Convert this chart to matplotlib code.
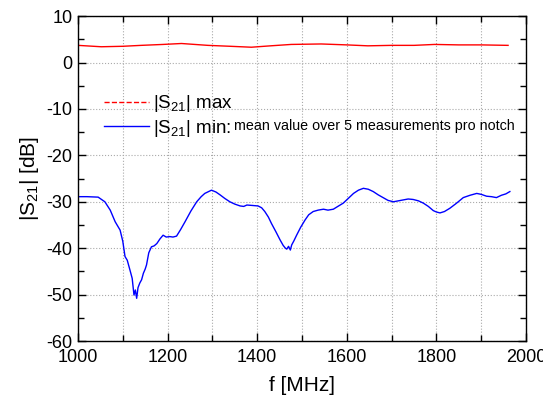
import numpy as np
import matplotlib.pyplot as plt
from matplotlib.lines import Line2D
from matplotlib.ticker import MultipleLocator

plt.rcParams['font.family'] = ['Liberation Sans', 'DejaVu Sans']
plt.rcParams['axes.unicode_minus'] = False
plt.rcParams['mathtext.fontset'] = 'custom'
plt.rcParams['mathtext.rm'] = 'Liberation Sans'
plt.rcParams['mathtext.it'] = 'Liberation Sans:italic'

# |S21| max
f_max = [1000, 1052, 1100, 1141, 1190, 1231, 1290, 1340, 1387, 1430, 1476, 1543, 1600, 1647, 1700, 1750, 1796, 1850, 1900, 1960]
s21_max = [3.7, 3.4, 3.5, 3.7, 3.9, 4.1, 3.7, 3.5, 3.3, 3.6, 3.9, 4.0, 3.8, 3.6, 3.7, 3.7, 3.9, 3.8, 3.8, 3.7]

# |S21| min, Mittelwert ueber 5 Messungen
f_min = [1000, 1020, 1045, 1060, 1072, 1083, 1094, 1100, 1105, 1110, 1116, 1121, 1125, 1128, 1131, 1134,
         1138, 1142, 1146, 1150, 1153, 1158, 1164, 1170, 1176, 1183, 1190, 1197, 1205, 1212, 1220, 1229,
         1239, 1252, 1265, 1275, 1283, 1298, 1308, 1317, 1328, 1339, 1350, 1362, 1370, 1377, 1390, 1402,
         1410, 1417, 1425, 1432, 1442, 1451, 1458, 1463, 1466, 1470, 1474, 1477, 1482, 1488, 1497, 1507,
         1515, 1525, 1536, 1548, 1558, 1570, 1580, 1592, 1603, 1615, 1626, 1637, 1648, 1659, 1670, 1681,
         1692, 1704, 1715, 1726, 1737, 1748, 1760, 1771, 1782, 1793, 1800, 1808, 1818, 1830, 1845, 1860,
         1875, 1890, 1900, 1912, 1923, 1934, 1945, 1955, 1964]
s21_min = [-28.9, -28.9, -29.0, -30.0, -31.8, -34.3, -36.1, -38.5, -41.8, -42.6, -44.7, -46.5, -50.1, -49.0, -50.8, -48.5,
           -47.5, -46.8, -45.4, -44.5, -43.6, -41.0, -39.7, -39.5, -39.0, -38.0, -37.2, -37.6, -37.5, -37.6, -37.4, -36.0,
           -34.3, -32.0, -30.0, -28.9, -28.2, -27.5, -27.9, -28.5, -29.3, -30.0, -30.5, -30.9, -31.0, -30.7, -30.8, -30.9,
           -31.3, -32.1, -33.3, -34.7, -36.5, -38.2, -39.4, -40.0, -40.2, -39.6, -40.4, -39.3, -38.4, -37.2, -35.5, -33.9,
           -32.8, -32.1, -31.8, -31.6, -31.8, -31.6, -31.0, -30.3, -29.3, -28.2, -27.5, -27.1, -27.3, -27.8, -28.5, -29.1,
           -29.7, -30.0, -29.8, -29.6, -29.4, -29.5, -29.8, -30.3, -31.0, -31.9, -32.2, -32.4, -32.1, -31.4, -30.3, -29.1,
           -28.6, -28.2, -28.4, -28.8, -28.9, -29.1, -28.6, -28.3, -27.8]

fig = plt.figure(figsize=(5.43, 4.03), dpi=100)
ax = fig.add_axes([0.1436, 0.1538, 0.8251, 0.8062])

ax.plot(f_max, s21_max, color='#ff0000', lw=1.0)
ax.plot(f_min, s21_min, color='#0000ff', lw=1.0)

ax.set_xlim(1000, 2000)
ax.set_ylim(-60, 10)
ax.xaxis.set_major_locator(MultipleLocator(200))
ax.xaxis.set_minor_locator(MultipleLocator(100))
ax.yaxis.set_major_locator(MultipleLocator(10))
ax.yaxis.set_minor_locator(MultipleLocator(5))
ax.grid(True, which='major', axis='y', color='#aaaaaa', ls=':', lw=0.8)
ax.grid(True, which='both', axis='x', color='#aaaaaa', ls=':', lw=0.8)
ax.tick_params(which='both', direction='in', top=True, right=True, labelsize=13, width=1.0)
ax.tick_params(which='major', length=6, pad=4)
ax.tick_params(which='minor', length=4)
ax.tick_params(axis='x', which='major', pad=6)
for sp in ax.spines.values():
    sp.set_linewidth(1.0)

ax.set_xlabel('f [MHz]', fontsize=15, labelpad=7)
ax.set_ylabel('|S$_{21}$| [dB]', fontsize=15, labelpad=4)

handles = [Line2D([], [], color='#ff0000', ls='--', lw=1.0),
           Line2D([], [], color='#0000ff', lw=1.0)]
leg = ax.legend(handles, ['|S$_{21}$| max', '|S$_{21}$| min:'], loc='upper left',
                bbox_to_anchor=(0.02, 0.815), frameon=False, fontsize=13.5,
                handlelength=2.4, handletextpad=0.2, labelspacing=0.2)

fig.canvas.draw()
t = leg.get_texts()[1]
bb = t.get_window_extent()
x0, y0 = fig.transFigure.inverted().transform((bb.x1 + 3, (bb.y0 + bb.y1) / 2))
fig.text(x0, y0 + 0.006, 'mean value over 5 measurements pro notch', fontsize=10.3, va='center')

fig.savefig('out.png', dpi=100)
